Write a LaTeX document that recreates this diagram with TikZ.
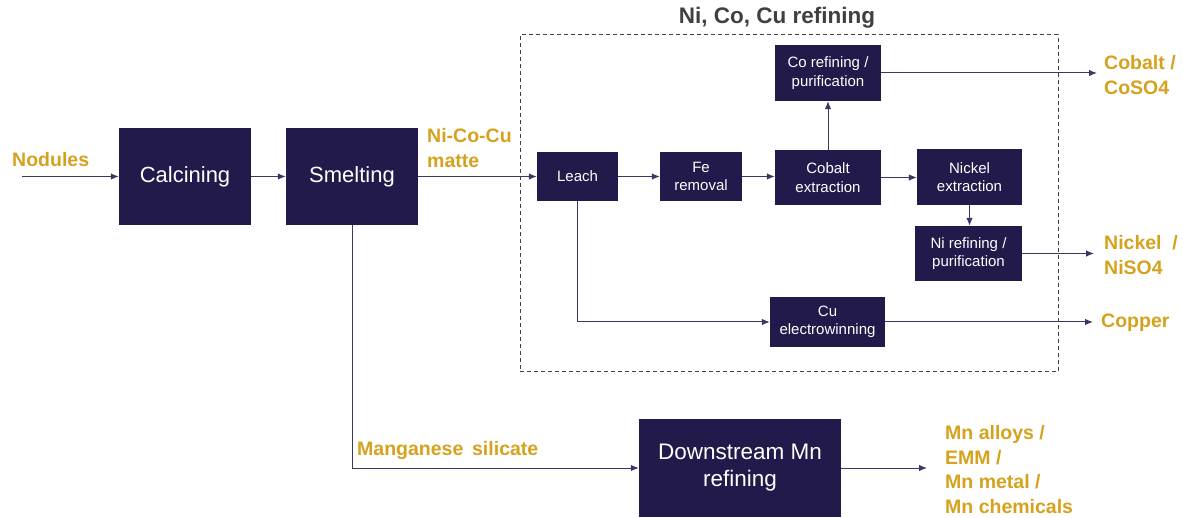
\documentclass[tikz,border=0pt]{standalone}
\usepackage{fontspec}
\setmainfont{Liberation Sans}
\usetikzlibrary{arrows.meta}
\definecolor{navy}{HTML}{211A4A}
\definecolor{gold}{HTML}{D5A21E}
\definecolor{linec}{HTML}{3B3663}
\definecolor{titlec}{HTML}{404040}
\tikzset{
  bigbox/.style={fill=navy, draw=none, text=white, inner sep=0pt, align=center, font=\fontsize{22}{27}\selectfont},
  smallbox/.style={fill=navy, draw=none, text=white, inner sep=0pt, align=center, font=\fontsize{15}{18.5}\selectfont},
  lbl/.style={text=gold, inner sep=0pt, anchor=west, align=left, font=\bfseries\fontsize{19.5}{24.5}\selectfont},
  flow/.style={draw=linec, line width=1pt, -{Latex[length=8pt,width=6.5pt]}},
}
\begin{document}
\begin{tikzpicture}[x=1pt,y=-1pt]
\useasboundingbox (0,0) rectangle (1183,518);
% dashed frame
\node[draw=titlec, dash pattern=on 4pt off 3pt, line width=1pt, inner sep=0pt, minimum width=538pt, minimum height=337pt] (frame) at (789,203.5) {};
\node[text=titlec, inner sep=0pt, font=\bfseries\fontsize{22.5}{27}\selectfont] (title) at (777,18) {Ni, Co, Cu refining};
% boxes
\node[bigbox, minimum width=132pt, minimum height=97pt] (calc) at (185,176.5) {Calcining};
\node[bigbox, minimum width=132pt, minimum height=97pt] (smelt) at (352,176.5) {Smelting};
\node[smallbox, minimum width=81pt, minimum height=49pt] (leach) at (577.5,176.5) {Leach};
\node[smallbox, minimum width=82pt, minimum height=49pt] (fe) at (701,176.5) {Fe\\removal};
\node[smallbox, minimum width=106pt, minimum height=55pt] (coex) at (828,177.5) {Cobalt\\extraction};
\node[smallbox, minimum width=106pt, minimum height=56pt] (coref) at (828,73) {Co refining /\\purification};
\node[smallbox, minimum width=105pt, minimum height=56pt] (niex) at (969.5,177) {Nickel\\extraction};
\node[smallbox, minimum width=107pt, minimum height=55pt] (niref) at (968.5,253.5) {Ni refining /\\purification};
\node[smallbox, minimum width=115pt, minimum height=50pt] (cu) at (827.5,322) {Cu\\electrowinning};
\node[bigbox, minimum width=202pt, minimum height=98pt, font=\fontsize{22.5}{27}\selectfont] (mn) at (740,468) {Downstream Mn\\refining};
% labels
\node[lbl] (lnod) at (12,160) {Nodules};
\node[lbl] (lmatte) at (427,148) {Ni-Co-Cu\\matte};
\node[lbl] (lco) at (1104,75) {Cobalt /\\CoSO4};
\node[lbl] (lni) at (1104,255) {Nickel~ /\\NiSO4};
\node[lbl] (lcu) at (1101,323) {Copper};
\node[lbl] (lmns) at (357,451) {Manganese\hspace{0.45em}silicate};
\node[lbl] (lmn) at (945,469.5) {Mn alloys /\\EMM /\\Mn metal /\\Mn chemicals};
% free ends
\coordinate (nodin) at (22,176.5);
\coordinate (coout) at (1097,73);
\coordinate (niout) at (1094,253.5);
\coordinate (cuout) at (1093,322);
\coordinate (mnout) at (927,468);
% connectors
\draw[flow] (nodin) -- (calc.west);
\draw[flow] (calc.east) -- (smelt.west);
\draw[flow] (smelt.east) -- (leach.west);
\draw[flow] (leach.east) -- (fe.west);
\draw[flow] (fe.east) -- (fe.east -| coex.west);
\draw[flow] (coex.east) -- (coex.east -| niex.west);
\draw[flow] (coex.north) -- (coref.south);
\draw[flow] (niex.south) -- (niex.south |- niref.north);
\draw[flow] (coref.east) -- (coout);
\draw[flow] (niref.east) -- (niout);
\draw[flow] (leach.south) |- (cu.west);
\draw[flow] (cu.east) -- (cuout);
\draw[flow] (smelt.south) |- (mn.west);
\draw[flow] (mn.east) -- (mnout);
\end{tikzpicture}
\end{document}
